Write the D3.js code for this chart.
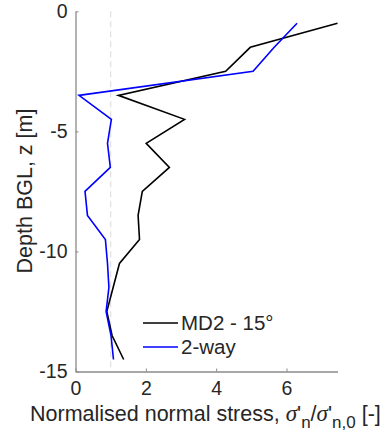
<!DOCTYPE html>
<html>
<head>
<meta charset="utf-8">
<script src="https://cdn.jsdelivr.net/npm/d3@7"></script>
<style>
  body { margin: 0; background: #fff; }
  text { font-family: "Liberation Sans", Arial, sans-serif; fill: #262626; }
</style>
</head>
<body>
<script>
// depth levels, m below ground
var depth = [-0.5, -1.5, -2.5, -3.5, -4.5, -5.5, -6.5, -7.5, -8.5, -9.5, -10.5, -11.5, -12.5, -13.5, -14.5];
// normalised normal stress for each series
var md2 = [7.45, 4.97, 4.27, 1.22, 3.1, 2.01, 2.67, 1.9, 1.78, 1.82, 1.25, 1.07, 0.89, 1.04, 1.37];
var twoWay = [6.3, 5.65, 5.05, 0.1, 1.02, 0.91, 0.99, 0.27, 0.34, 0.85, 0.91, 0.95, 0.87, 1.01, 1.08];
var xTicks = [0, 2, 4, 6];
var yTicks = [0, -5, -10, -15];
var seriesNames = ["MD2 - 15\u00b0", "2-way"];
var seriesColors = ["#000000", "#0000ff"];

var width = 386, height = 434;
var margin = {left: 75.5, top: 11.3, right: 48.5, bottom: 62.5};

var svg = d3.select("body").append("svg").attr("width", width).attr("height", height);

var x = d3.scaleLinear().domain([0, 7.45]).range([margin.left, width - margin.right]);
var y = d3.scaleLinear().domain([0, -15]).range([margin.top, height - margin.bottom]);

//reference line at 1
svg.append("line")
  .attr("x1", x(1)).attr("x2", x(1))
  .attr("y1", y(0)).attr("y2", y(-15))
  .attr("stroke", "#e0e0e0").attr("stroke-width", 1.2).attr("stroke-dasharray", "6,4");

//axes
var xAxis = d3.axisBottom(x).tickValues(xTicks).tickSizeInner(-3).tickSizeOuter(0).tickPadding(10);
var yAxis = d3.axisLeft(y).tickValues(yTicks).tickSizeInner(-3).tickSizeOuter(0).tickPadding(8);

var gx = svg.append("g").attr("transform", "translate(0," + y(-15) + ")").call(xAxis);
var gy = svg.append("g").attr("transform", "translate(" + x(0) + ",0)").call(yAxis);

[gx, gy].forEach(function(g) {
  g.select(".domain").attr("stroke", "#8a8a8a").attr("stroke-width", 1.3);
  g.selectAll(".tick line").attr("stroke", "#8a8a8a");
  g.selectAll(".tick text").attr("font-size", 19.5).style("fill", "#262626");
});
gy.selectAll(".tick text").text(function(d) { return d; });

//series
var line = d3.line()
  .x(function(d) { return x(d[0]); })
  .y(function(d) { return y(d[1]); });

[md2, twoWay].forEach(function(s, k) {
  svg.append("path")
    .datum(s.map(function(v, i) { return [v, depth[i]]; }))
    .attr("fill", "none")
    .attr("stroke", seriesColors[k])
    .attr("stroke-width", 1.6)
    .attr("d", line);
});

//legend
var lg = svg.append("g");
seriesNames.forEach(function(n, i) {
  var yy = 323 + i * 24;
  lg.append("line").attr("x1", 143).attr("x2", 178).attr("y1", yy).attr("y2", yy)
    .attr("stroke", seriesColors[i]).attr("stroke-width", 1.6);
  lg.append("text").attr("x", 181).attr("y", yy + 7).attr("font-size", 20.5).text(n);
});

//axis labels
var xl = svg.append("text").attr("x", 30).attr("y", 421).attr("font-size", 21.5);
xl.append("tspan").text("Normalised normal stress, ");
xl.append("tspan").attr("font-family", "'Liberation Serif', serif").attr("font-style", "italic").attr("font-size", 23).text("\u03c3");
xl.append("tspan").text("'");
xl.append("tspan").attr("font-size", 17).attr("dy", 7).text("n");
xl.append("tspan").attr("dy", -7).text("/");
xl.append("tspan").attr("font-family", "'Liberation Serif', serif").attr("font-style", "italic").attr("font-size", 23).text("\u03c3");
xl.append("tspan").text("'");
xl.append("tspan").attr("font-size", 17).attr("dy", 7).text("n,0");
xl.append("tspan").attr("dy", -7).text(" [-]");

svg.append("text")
  .attr("transform", "translate(32,191)rotate(-90)")
  .attr("text-anchor", "middle")
  .attr("font-size", 21.5)
  .text("Depth BGL, z [m]");
</script>
</body>
</html>
